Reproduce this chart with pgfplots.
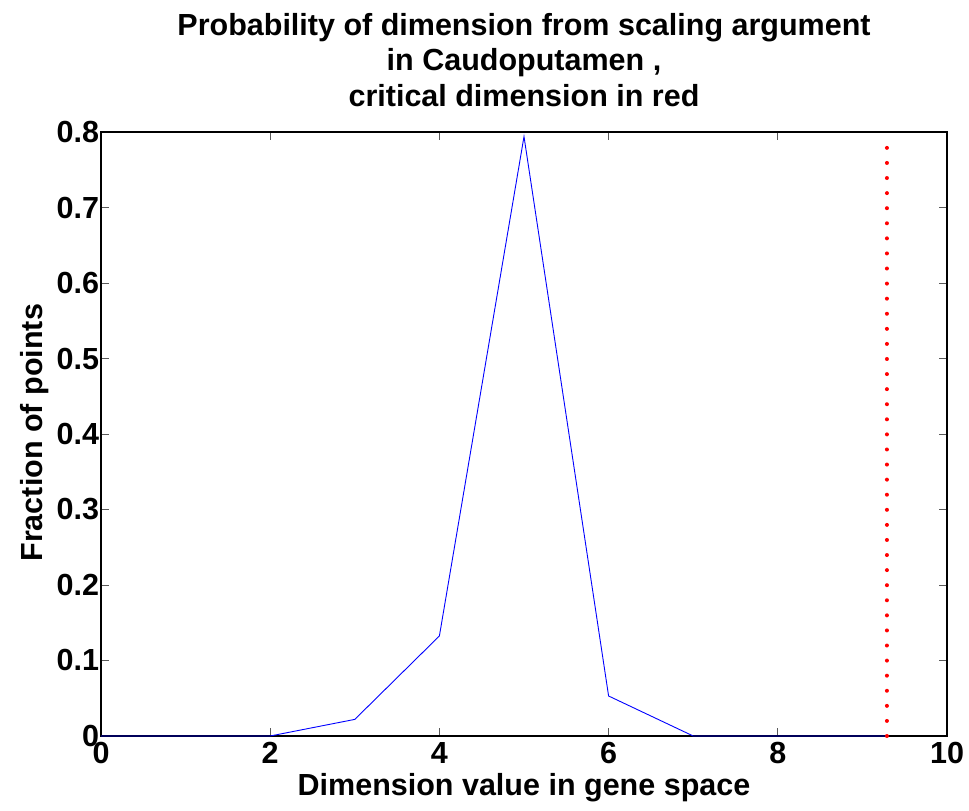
\documentclass[border=0pt]{standalone}
\usepackage{pgfplots}
\pgfplotsset{compat=1.18}
\usepackage{fontspec}
\setmainfont{Liberation Sans}
\begin{document}
\begin{tikzpicture}
\useasboundingbox (-101pt,-75pt) rectangle (868pt,736pt);
\begin{axis}[
  at={(0pt,0pt)}, anchor=south west,
  width=846pt, height=604pt, scale only axis,
  xmin=0, xmax=10, ymin=0, ymax=0.8,
  xtick={0,2,...,10}, ytick={0,0.1,...,0.8},
  yticklabels={0,0.1,0.2,0.3,0.4,0.5,0.6,0.7,0.8},
  tick align=inside, tick pos=both,
  major tick length=8pt,
  tick style={black!65, line width=0.9pt},
  axis line style={black, line width=1.3pt},
  /pgf/number format/assume math mode=true,
  ticklabel style={font=\fontsize{30.5}{34}\selectfont\bfseries},
  xticklabel style={yshift=-3pt},
  yticklabel style={xshift=1.5pt},
  xlabel={Dimension value in gene space},
  ylabel={Fraction of points},
  label style={font=\fontsize{30.5}{34}\selectfont\bfseries},
  xlabel style={at={(axis description cs:0.5,0)}, anchor=base, yshift=-59pt},
  ylabel style={at={(axis description cs:-0.0686,0.502)}, anchor=base, rotate=0},
  title={Probability of dimension from scaling argument\\in Caudoputamen ,\\critical dimension in red},
  title style={font=\fontsize{30.5}{35.5}\selectfont\bfseries, align=center,
    at={(axis description cs:0.5,1)}, anchor=south, inner sep=0pt, yshift=19.5pt},
  clip=false,
]
\addplot[blue, line width=0.9pt] coordinates {
(0,0) (1,0) (2,0) (3,0.022) (4,0.1325) (5,0.794) (6,0.053) (7,0) (8,0) (9,0) (9.29,0)
};
\addplot[red, line width=4pt, dash pattern=on 0pt off 15.08pt, line cap=round] coordinates {
(9.29,0) (9.29,0.781)
};
\end{axis}
\end{tikzpicture}
\end{document}
